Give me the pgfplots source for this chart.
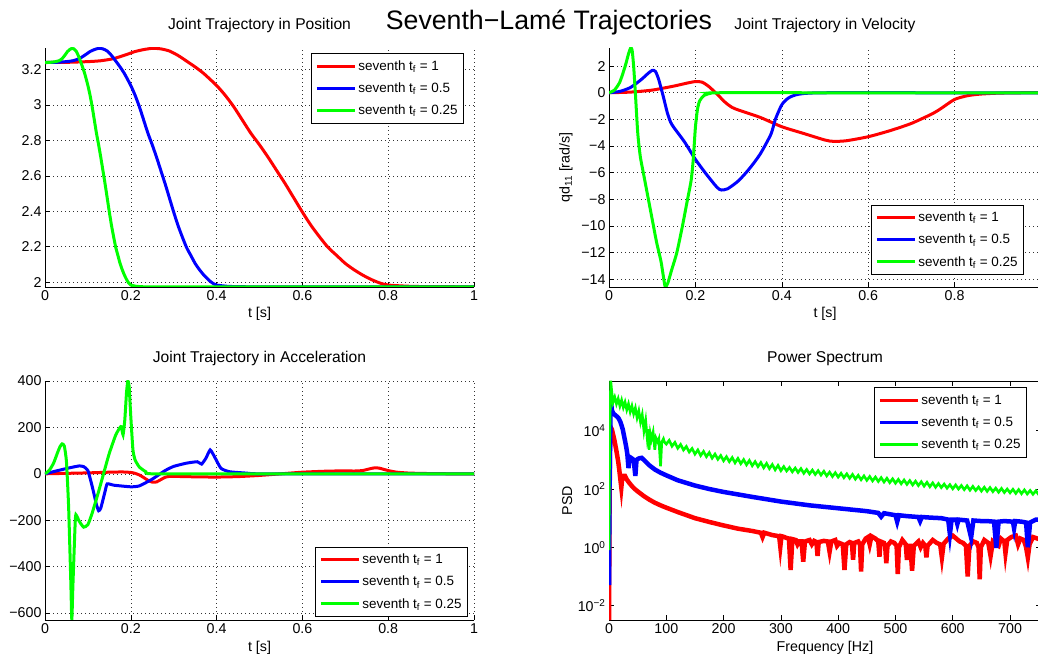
\documentclass[border=0pt]{standalone}
\usepackage{fontspec}
\setmainfont{Liberation Sans}
\usepackage{pgfplots}
\pgfplotsset{compat=1.18}
\definecolor{mred}{rgb}{1,0,0}
\definecolor{mblue}{rgb}{0,0,1}
\definecolor{mgreen}{rgb}{0,1,0}
\newcommand{\tf}{t\textsubscript{f}}
\pgfplotsset{
  mstyle/.style={
    scale only axis,
    tick align=inside,
    major tick length=5bp,
    minor tick num=0,
    tick style={black, line width=0.6bp},
    axis line style={black, line width=0.6bp},
    /pgf/number format/assume math mode=true,
    ticklabel style={font=\fontsize{14.3}{16}\selectfont},
    label style={font=\fontsize{14.3}{16}\selectfont},
    title style={font=\fontsize{15.7}{18}\selectfont, at={(0.5,1)}, anchor=base, yshift=12.5bp},
    xlabel style={at={(0.5,0)}, anchor=base, yshift=-31bp},
    legend cell align=left,
    legend style={draw=black, line width=0.8bp, fill=white, font=\fontsize{13.5}{16}\selectfont,
      row sep=7bp, inner ysep=5bp, inner xsep=4bp},
    legend image code/.code={\draw[#1, line width=3bp] (0bp,0bp) -- (38bp,0bp);},
    every axis plot/.append style={line width=3bp},
  },
  boxoff/.style={
    axis x line*=bottom, axis y line*=left,
    grid=major,
    major grid style={black!80, line width=0.6bp, dash pattern=on 1bp off 3bp},
  },
}
\begin{document}
\begin{tikzpicture}
\useasboundingbox (0,0) rectangle (1038bp,659bp);

% ---------------- Position ----------------
\begin{axis}[mstyle, boxoff, at={(45bp,372bp)}, anchor=south west,
  width=429bp, height=239bp,
  xmin=0, xmax=1, ymin=1.972, ymax=3.322,
  xtick={0,0.2,0.4,0.6,0.8,1}, ytick={2,2.2,2.4,2.6,2.8,3,3.2},
  title={Joint Trajectory in Position}, xlabel={t [s]},
  legend style={at={(1,1)}, anchor=north east, xshift=-10bp, yshift=-5bp}]
\addplot[mred, smooth, tension=0.4] coordinates {(0,3.24)(0.05,3.241)(0.1,3.245)(0.13,3.25)(0.16,3.262)(0.19,3.285)(0.21,3.302)(0.23,3.313)(0.25,3.32)(0.27,3.317)(0.29,3.305)(0.31,3.28)(0.33,3.248)(0.35,3.215)(0.37,3.178)(0.4,3.11)(0.42,3.055)(0.44,2.99)(0.46,2.915)(0.48,2.84)(0.5,2.775)(0.52,2.705)(0.54,2.63)(0.56,2.555)(0.58,2.475)(0.6,2.395)(0.62,2.32)(0.64,2.255)(0.66,2.195)(0.68,2.15)(0.7,2.105)(0.72,2.07)(0.74,2.04)(0.76,2.015)(0.78,1.995)(0.8,1.983)(0.85,1.976)(0.9,1.974)(1,1.973)};
\addlegendentry{seventh \tf\ = 1}
\addplot[mblue, smooth, tension=0.4] coordinates {(0,3.24)(0.025,3.241)(0.05,3.245)(0.065,3.25)(0.08,3.262)(0.095,3.285)(0.105,3.302)(0.115,3.313)(0.125,3.32)(0.135,3.317)(0.145,3.305)(0.155,3.28)(0.165,3.248)(0.175,3.215)(0.185,3.178)(0.2,3.11)(0.21,3.055)(0.22,2.99)(0.23,2.915)(0.24,2.84)(0.25,2.775)(0.26,2.705)(0.27,2.63)(0.28,2.555)(0.29,2.475)(0.3,2.395)(0.31,2.32)(0.32,2.255)(0.33,2.195)(0.34,2.15)(0.35,2.105)(0.36,2.07)(0.37,2.04)(0.38,2.015)(0.39,1.995)(0.4,1.983)(0.425,1.976)(0.45,1.974)(0.5,1.973)(0.75,1.973)(1,1.973)};
\addlegendentry{seventh \tf\ = 0.5}
\addplot[mgreen, smooth, tension=0.4] coordinates {(0,3.24)(0.0125,3.241)(0.025,3.245)(0.0325,3.25)(0.04,3.262)(0.0475,3.285)(0.0525,3.302)(0.0575,3.313)(0.0625,3.32)(0.0675,3.317)(0.0725,3.305)(0.0775,3.28)(0.0825,3.248)(0.0875,3.215)(0.0925,3.178)(0.1,3.11)(0.105,3.055)(0.11,2.99)(0.115,2.915)(0.12,2.84)(0.125,2.775)(0.13,2.705)(0.135,2.63)(0.14,2.555)(0.145,2.475)(0.15,2.395)(0.155,2.32)(0.16,2.255)(0.165,2.195)(0.17,2.15)(0.175,2.105)(0.18,2.07)(0.185,2.04)(0.19,2.015)(0.195,1.995)(0.2,1.983)(0.2125,1.976)(0.225,1.974)(0.25,1.973)(0.5,1.973)(0.75,1.973)(1,1.973)};
\addlegendentry{seventh \tf\ = 0.25}
\end{axis}

% ---------------- Velocity ----------------
\begin{axis}[mstyle, boxoff, at={(609bp,372bp)}, anchor=south west,
  width=432bp, height=239bp,
  xmin=0, xmax=1, ymin=-14.58, ymax=3.36,
  xtick={0,0.2,0.4,0.6,0.8,1},
  ytick={-14,-12,-10,-8,-6,-4,-2,0,2},
  yticklabels={−14,−12,−10,−8,−6,−4,−2,0,2},
  title={Joint Trajectory in Velocity}, xlabel={t [s]},
  ylabel={qd\textsubscript{11} [rad/s]},
  ylabel style={at={(-0.0995,0.5)}, anchor=center},
  legend style={at={(1,0)}, anchor=south east, xshift=-17bp, yshift=12bp}]
\addplot[mred, smooth, tension=0.4] coordinates {(0,0)(0.05,0.05)(0.1,0.2)(0.15,0.5)(0.18,0.72)(0.2,0.84)(0.215,0.8)(0.23,0.5)(0.25,-0.1)(0.27,-0.75)(0.285,-1.1)(0.3,-1.3)(0.35,-1.85)(0.4,-2.55)(0.45,-3.05)(0.5,-3.55)(0.52,-3.65)(0.55,-3.6)(0.6,-3.3)(0.65,-2.85)(0.7,-2.3)(0.75,-1.55)(0.77,-1.15)(0.8,-0.5)(0.83,-0.22)(0.86,-0.1)(0.9,-0.03)(0.95,0)(1,0)};
\addlegendentry{seventh \tf\ = 1}
\addplot[mblue, smooth, tension=0.4] coordinates {(0,0)(0.025,0.1)(0.05,0.4)(0.075,1.0)(0.09,1.44)(0.1,1.68)(0.1075,1.6)(0.115,1.0)(0.125,-0.2)(0.135,-1.5)(0.1425,-2.2)(0.15,-2.6)(0.175,-3.7)(0.2,-5.0)(0.225,-6.1)(0.25,-7.1)(0.26,-7.3)(0.275,-7.2)(0.3,-6.6)(0.325,-5.7)(0.35,-4.6)(0.375,-3.1)(0.385,-2.0)(0.4,-0.9)(0.415,-0.4)(0.43,-0.18)(0.45,-0.06)(0.5,0)(0.75,0)(1,0)};
\addlegendentry{seventh \tf\ = 0.5}
\addplot[mgreen, smooth, tension=0.4] coordinates {(0,0)(0.0125,0.2)(0.025,0.8)(0.0375,2.0)(0.045,2.9)(0.05,3.35)(0.0535,3.2)(0.057,2.0)(0.061,0)(0.0665,-3.0)(0.0725,-4.8)(0.08,-6.1)(0.09,-7.8)(0.1,-9.5)(0.11,-11.2)(0.12,-12.6)(0.125,-13.6)(0.13,-14.55)(0.136,-14.3)(0.145,-13.3)(0.157,-12.0)(0.17,-10.0)(0.18,-8.3)(0.19,-6.6)(0.195,-5.0)(0.2,-2.6)(0.205,-1.2)(0.21,-0.6)(0.22,-0.2)(0.235,-0.04)(0.25,0)(0.5,0)(0.75,0)(1,0)};
\addlegendentry{seventh \tf\ = 0.25}
\end{axis}

% ---------------- Acceleration ----------------
\begin{axis}[mstyle, boxoff, at={(45bp,39bp)}, anchor=south west,
  width=429bp, height=239bp,
  xmin=0, xmax=1, ymin=-630, ymax=400,
  xtick={0,0.2,0.4,0.6,0.8,1},
  ytick={-600,-400,-200,0,200,400},
  yticklabels={−600,−400,−200,0,200,400},
  title={Joint Trajectory in Acceleration}, xlabel={t [s]},
  legend style={at={(1,0)}, anchor=south east, xshift=-6bp, yshift=3bp}]
\addplot[mred, smooth, tension=0.3] coordinates {(0,0)(0.05,2)(0.1,4)(0.15,7)(0.18,8)(0.2,6)(0.21,2)(0.22,-5)(0.23,-16)(0.24,-28)(0.25,-36)(0.26,-35)(0.27,-25)(0.28,-15)(0.29,-11)(0.3,-11)(0.35,-13)(0.4,-14)(0.45,-12)(0.5,-7)(0.55,0)(0.6,7)(0.65,11)(0.7,13)(0.72,12)(0.74,14)(0.76,23)(0.77,26)(0.78,24)(0.8,14)(0.82,7)(0.85,3)(0.9,1)(0.95,0)(1,0)};
\addlegendentry{seventh \tf\ = 1}
\addplot[mblue, smooth, tension=0.3] coordinates {(0,0)(0.03,14)(0.06,27)(0.08,34)(0.09,31)(0.1,14)(0.11,-54)(0.12,-133)(0.125,-159)(0.13,-148)(0.14,-76)(0.145,-43)(0.16,-49)(0.2,-56)(0.22,-52)(0.25,-23)(0.28,14)(0.3,32)(0.33,46)(0.355,52)(0.365,42)(0.375,67)(0.385,103)(0.395,74)(0.41,24)(0.43,9)(0.47,3)(0.5,0)(0.75,0)(1,0)};
\addlegendentry{seventh \tf\ = 0.5}
\addplot[mgreen, smooth, tension=0.3] coordinates {(0,0)(0.01,15)(0.02,46)(0.03,95)(0.035,117)(0.04,129)(0.045,120)(0.05,53)(0.055,-140)(0.06,-455)(0.0625,-629)(0.065,-484)(0.07,-226)(0.072,-176)(0.08,-205)(0.09,-230)(0.1,-219)(0.11,-169)(0.125,-76)(0.14,24)(0.15,89)(0.165,168)(0.175,200)(0.178,203)(0.182,168)(0.186,232)(0.19,350)(0.193,400)(0.196,380)(0.2,246)(0.205,103)(0.21,60)(0.22,29)(0.235,9)(0.25,0)(0.5,0)(0.75,0)(1,0)};
\addlegendentry{seventh \tf\ = 0.25}
\end{axis}

% ---------------- Power spectrum ----------------
\begin{axis}[mstyle, at={(609bp,39bp)}, anchor=south west,
  width=432bp, height=239bp,
  ymode=log,
  xmin=0, xmax=754, ymin=3.2e-3, ymax=5.1e5,
  xtick={0,100,200,300,400,500,600,700},
  ytick={0.01,1,100,10000}, minor ytick={},
  yticklabels={10\textsuperscript{−2},10\textsuperscript{0},10\textsuperscript{2},10\textsuperscript{4}},
  title={Power Spectrum}, xlabel={Frequency [Hz]},
  ylabel={PSD},
  ylabel style={at={(-0.097,0.5)}, anchor=center},
  legend style={at={(1,1)}, anchor=north east, xshift=-14bp, yshift=-6bp}]
\addplot[mred, line width=4.5bp] table[x index=0, y expr=10^(\thisrowno{1})] {
0 -2.5
0.8 1.0
2 4.15
5 4.05
8 3.8
10 3.62
13 3.3
16 2.95
18 2.65
20 2.3
21.5 2.05
23 2.35
25 2.45
28 2.45
31 2.33
35 2.22
40 2.1
45 2.0
50 1.92
60 1.77
70 1.64
80 1.53
90 1.44
100 1.36
120 1.21
150 1.0
175 0.87
200 0.75
225 0.64
250 0.56
265 0.5
268 0.35
271 0.5
285 0.42
297 0.38
299 0.02
301 0.38
305 0.36
310 0.32
314 0.3
317 -0.78
320 0.28
326 0.25
329 0.1
332 0.2
336 0.2
339 -0.49
342 0.2
350 0.25
354 0.1
358 0.22
362 0.18
364 -0.3
366 0.18
375 0.22
382 0.2
385 -0.15
388 0.2
395 0.25
398 0.05
402 0.15
408 0.1
411 -0.78
414 0.1
420 0.18
424 0.15
426 -0.43
428 0.15
435 0.2
438 0.1
440 -0.83
442 0.1
448 0.3
452 0.35
455 0.1
458 0.38
465 0.3
470 0.2
472 -0.32
474 0.2
480 0.15
482 0.05
484 -0.55
486 0.05
492 0.2
498 0.15
502 0.05
504 -0.92
506 0.0
512 0.25
518 0.1
520 -0.43
522 0.05
526 0.05
529 -0.8
532 0.05
540 0.2
544 0.0
548 0.15
552 0.05
554 -0.35
556 0.05
565 0.25
572 0.15
578 0.1
581 -0.35
584 0.12
592 0.3
600 0.4
606 0.3
612 0.2
618 0.15
623 0.05
626 -1.0
629 0.05
636 0.2
642 0.15
645 0.0
647 -1.1
649 0.0
655 0.25
662 0.15
666 -0.3
670 0.2
676 0.1
680 0.05
684 0.3
690 0.2
692 -0.2
695 0.25
702 0.35
710 0.4
714 0.1
718 0.3
724 0.25
728 0.0
731 -0.35
734 0.1
740 0.35
748 0.3
755 0.25
};
\addlegendentry{seventh \tf\ = 1}
\addplot[mblue, line width=4.5bp] table[x index=0, y expr=10^(\thisrowno{1})] {
0 -1.3
0.8 2.0
3 5.1
5 4.7
8 4.58
12 4.52
16 4.45
20 4.3
24 4.05
27 3.75
30 3.45
32 3.2
34 2.72
36 3.1
40 3.05
43 3.0
46 2.45
48 3.0
52 3.05
57 3.07
62 2.98
70 2.82
80 2.67
90 2.56
100 2.47
120 2.3
150 2.12
175 2.0
200 1.9
250 1.73
300 1.57
350 1.44
400 1.34
450 1.24
470 1.18
475 1.05
480 1.17
500 1.1
503 0.88
506 1.1
520 1.07
540 1.04
543 0.9
546 1.04
560 1.02
580 1.0
592 0.95
595 0.45
598 0.95
606 0.95
608 0.8
610 0.95
625 0.92
632 0.33
636 0.92
650 0.9
660 0.9
672 0.88
676 -0.02
680 0.88
690 0.9
705 0.88
707 0.65
709 0.9
720 0.88
728 0.85
731 0.0
735 0.85
745 0.95
755 0.95
};
\addlegendentry{seventh \tf\ = 0.5}
\addplot[mgreen, line width=2.6bp] table[x index=0, y expr=10^(\thisrowno{1})] {
0 -0.1
1 3.5
3 5.72
5 5.3
7 4.98
10 5.15
13 4.92
16 5.1
19 4.85
22 5.05
25 4.8
28 4.98
31 4.72
34 4.92
37 4.65
40 4.85
43 4.58
46 4.78
49 4.45
52 4.68
55 4.3
58 4.55
61 4.0
64 4.35
66.5 3.8
68 4.05
70 3.35
72 3.9
74 3.7
77 3.95
80 3.35
82 3.75
85 3.62
87 3.72
90 2.78
92 3.6
95 3.72
97 3.6
100 3.54
105 3.67
110 3.47
115 3.60
120 3.40
125 3.53
130 3.34
135 3.46
140 3.27
145 3.39
150 3.20
155 3.34
160 3.15
165 3.29
170 3.11
175 3.25
180 3.06
185 3.20
190 3.02
195 3.15
200 2.97
205 3.11
210 2.94
215 3.08
220 2.90
225 3.05
230 2.87
235 3.01
240 2.83
245 2.98
250 2.80
255 2.94
260 2.77
265 2.91
270 2.73
275 2.88
280 2.70
285 2.84
290 2.66
295 2.81
300 2.63
305 2.77
310 2.62
315 2.74
320 2.59
325 2.72
330 2.57
335 2.70
340 2.54
345 2.67
350 2.52
355 2.65
360 2.50
365 2.63
370 2.48
375 2.61
380 2.45
385 2.58
390 2.43
395 2.56
400 2.41
405 2.54
410 2.39
415 2.52
420 2.37
425 2.50
430 2.34
435 2.47
440 2.32
445 2.45
450 2.30
455 2.43
460 2.28
465 2.41
470 2.26
475 2.39
480 2.24
485 2.37
490 2.22
495 2.35
500 2.20
505 2.33
510 2.18
515 2.31
520 2.16
525 2.29
530 2.14
535 2.27
540 2.12
545 2.25
550 2.10
555 2.23
560 2.08
565 2.21
570 2.06
575 2.19
580 2.05
585 2.17
590 2.03
595 2.15
600 2.01
605 2.14
610 2.00
615 2.12
620 1.98
625 2.11
630 1.96
635 2.09
640 1.95
645 2.07
650 1.93
655 2.06
660 1.92
665 2.05
670 1.91
675 2.03
680 1.89
685 2.02
690 1.88
695 2.00
700 1.87
705 1.99
710 1.85
715 1.98
720 1.84
725 1.97
730 1.83
735 1.95
740 1.82
745 1.94
750 1.81
755 1.93
};
\addlegendentry{seventh \tf\ = 0.25}
\end{axis}

\node[font=\fontsize{26.8}{30}\selectfont, anchor=base] at (549bp,629bp) {Seventh−Lamé Trajectories};
\end{tikzpicture}
\end{document}
